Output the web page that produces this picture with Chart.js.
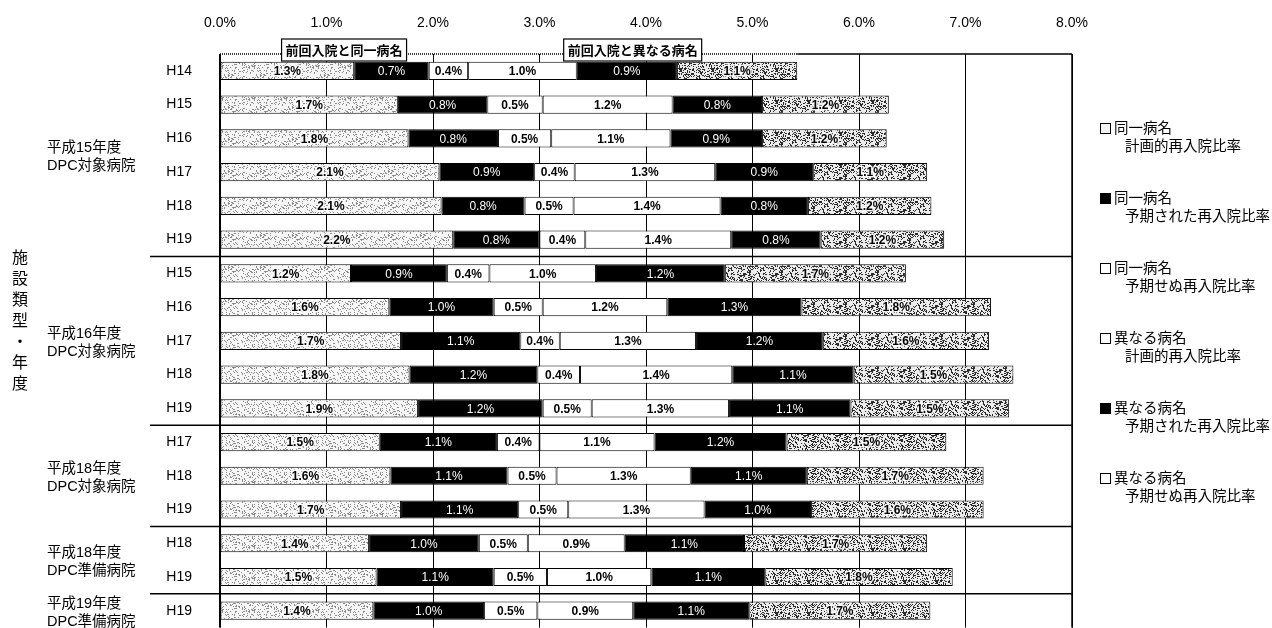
<!DOCTYPE html>
<html>
<head>
<meta charset="utf-8">
<script src="https://cdn.jsdelivr.net/npm/chart.js@4/dist/chart.umd.min.js"></script>
<style>
  html, body { margin: 0; padding: 0; background: #fff; overflow: hidden; width: 1272px; height: 628px; }
  #wrap { position: relative; width: 1272px; height: 664px; }
  #legend { position: absolute; left: 1100px; top: 118px; font-family: 'Noto Sans CJK JP', sans-serif; font-size: 14.5px; color: #000; }
  .item { height: 70px; }
  .item div { line-height: 18px; white-space: nowrap; }
  .item .l2 { padding-left: 25px; }
  .box { display: inline-block; width: 9px; height: 9px; border: 1px solid #000; margin-right: 3px; vertical-align: -1px; }
</style>
</head>
<body>
<div id="wrap">
  <canvas id="chart" width="1272" height="664"></canvas>
  <div id="legend"></div>
</div>
<script>
// rows (top to bottom) and their groups
const years = ['H14', 'H15', 'H16', 'H17', 'H18', 'H19',
               'H15', 'H16', 'H17', 'H18', 'H19',
               'H17', 'H18', 'H19',
               'H18', 'H19',
               'H19'];
const groupNames = ['平成15年度', '平成16年度', '平成18年度', '平成18年度', '平成19年度'];
const groupTypes = ['DPC対象病院', 'DPC対象病院', 'DPC対象病院', 'DPC準備病院', 'DPC準備病院'];
const groupSizes = [6, 5, 3, 2, 1];

// % values
const samePlanned    = [1.26, 1.67, 1.77, 2.06, 2.08, 2.19, 1.23, 1.59, 1.70, 1.78, 1.86, 1.50, 1.60, 1.70, 1.40, 1.47, 1.44];
const sameExpected   = [0.70, 0.84, 0.84, 0.89, 0.78, 0.81, 0.90, 0.98, 1.12, 1.20, 1.17, 1.10, 1.10, 1.10, 1.03, 1.10, 1.04];
const sameUnexpected = [0.37, 0.52, 0.50, 0.38, 0.46, 0.43, 0.40, 0.46, 0.37, 0.40, 0.46, 0.40, 0.46, 0.47, 0.46, 0.50, 0.50];
const diffPlanned    = [1.02, 1.22, 1.12, 1.32, 1.38, 1.37, 1.00, 1.17, 1.28, 1.43, 1.29, 1.08, 1.26, 1.28, 0.91, 0.98, 0.90];
const diffExpected   = [0.94, 0.84, 0.86, 0.92, 0.82, 0.84, 1.21, 1.26, 1.19, 1.14, 1.14, 1.24, 1.09, 1.00, 1.12, 1.07, 1.09];
const diffUnexpected = [1.13, 1.19, 1.17, 1.07, 1.16, 1.16, 1.70, 1.78, 1.56, 1.50, 1.49, 1.50, 1.66, 1.62, 1.72, 1.76, 1.70];

const seriesNames = [
  ['同一病名', '計画的再入院比率'],
  ['同一病名', '予期された再入院比率'],
  ['同一病名', '予期せぬ再入院比率'],
  ['異なる病名', '計画的再入院比率'],
  ['異なる病名', '予期された再入院比率'],
  ['異なる病名', '予期せぬ再入院比率']
];
const spanLabels = ['前回入院と同一病名', '前回入院と異なる病名'];

const xMin = 0, xMax = 8, xStep = 1;
const title = '施設類型・年度';

const latin = "'Liberation Sans', 'Noto Sans CJK JP', Arial, sans-serif";

// stipple texture for the patterned segments
function makePattern(base, dot, density, seed) {
  const c = document.createElement('canvas');
  c.width = c.height = 32;
  const g = c.getContext('2d');
  g.fillStyle = base;
  g.fillRect(0, 0, 32, 32);
  g.fillStyle = dot;
  for (let y = 0; y < 32; y++) {
    for (let x = 0; x < 32; x++) {
      let h = Math.imul(x + 1, 374761393) ^ Math.imul(y + 7, 668265263) ^ Math.imul(seed, 1442695041);
      h = Math.imul(h ^ (h >>> 13), 1274126177);
      if (((h >>> 0) % 1000) < density) g.fillRect(x, y, 1, 1);
    }
  }
  return g.createPattern(c, 'repeat');
}

const ctx = document.getElementById('chart').getContext('2d');
const lightPat = makePattern('#f6f6f6', '#8a8a8a', 170, 3);
const darkPat = makePattern('#ececec', '#2a2a2a', 330, 11);

const fills = [lightPat, '#000', '#fff', '#fff', '#000', darkPat];
const legendFills = ['#f2f2f2', '#000', '#fff', '#fff', '#000', '#fff'];
const textColors = ['#000', '#fff', '#000', '#000', '#fff', '#000'];
const halo = [true, false, false, false, false, true];
const seriesData = [samePlanned, sameExpected, sameUnexpected, diffPlanned, diffExpected, diffUnexpected];

const datasets = seriesData.map((d, i) => ({
  label: seriesNames[i].join(' '),
  data: d,
  backgroundColor: fills[i],
  borderColor: '#000',
  borderWidth: 1,
  borderSkipped: false,
  textColor: textColors[i],
  halo: halo[i],
  barPercentage: 0.54,
  categoryPercentage: 1
}));

// values printed in each segment
const barLabels = {
  id: 'barLabels',
  afterDatasetsDraw(chart) {
    const c = chart.ctx;
    c.save();
    c.textAlign = 'center';
    c.textBaseline = 'middle';
    chart.data.datasets.forEach((ds, i) => {
      c.font = (ds.textColor === '#fff' ? '' : 'bold ') + '12px ' + latin;
      chart.getDatasetMeta(i).data.forEach((bar, j) => {
        const v = Math.round(ds.data[j] * 10) / 10;
        const txt = v.toFixed(1) + '%';
        const cx = (bar.x + bar.base) / 2;
        if (ds.halo) {
          c.strokeStyle = 'rgba(255,255,255,0.85)';
          c.lineWidth = 3;
          c.lineJoin = 'round';
          c.strokeText(txt, cx, bar.y + 1);
        }
        c.fillStyle = ds.textColor;
        c.fillText(txt, cx, bar.y + 1);
      });
    });
    c.restore();
  }
};

// frame, group separators, group labels, span boxes, axis title
const decorations = {
  id: 'decorations',
  afterDraw(chart) {
    const c = chart.ctx;
    const area = chart.chartArea;
    const ys = chart.scales.y;
    const xs = chart.scales.x;
    c.save();
    c.strokeStyle = '#000';

    // group separators
    let start = 0;
    groupSizes.forEach((n, gi) => {
      if (gi > 0) {
        const yb = (ys.getPixelForValue(start - 1) + ys.getPixelForValue(start)) / 2;
        c.lineWidth = 1.5;
        c.beginPath();
        c.moveTo(150, yb);
        c.lineTo(area.right, yb);
        c.stroke();
      }
      const yc = (ys.getPixelForValue(start) + ys.getPixelForValue(start + n - 1)) / 2;
      c.fillStyle = '#000';
      c.font = '14.5px ' + latin;
      c.textAlign = 'left';
      c.textBaseline = 'middle';
      c.fillText(groupNames[gi], 47, yc - 7);
      c.fillText(groupTypes[gi], 47, yc + 11);
      start += n;
    });

    // frame
    const firstTotal = seriesData.reduce((s, d) => s + d[0], 0);
    const xEnd = xs.getPixelForValue(firstTotal);
    c.lineWidth = 2;
    c.beginPath();
    c.moveTo(area.left, area.top);
    c.lineTo(area.left, area.bottom);
    c.stroke();
    c.lineWidth = 1.5;
    c.beginPath();
    c.moveTo(area.right, area.top);
    c.lineTo(area.right, area.bottom);
    c.moveTo(xEnd, area.top);
    c.lineTo(area.right, area.top);
    c.stroke();
    c.setLineDash([1, 1]);
    c.beginPath();
    c.moveTo(area.left, area.top);
    c.lineTo(xEnd, area.top);
    c.stroke();
    c.setLineDash([]);

    // span boxes over the first row
    const sameEnd = samePlanned[0] + sameExpected[0] + sameUnexpected[0];
    const spans = [[0, sameEnd], [sameEnd, firstTotal]];
    c.font = 'bold 13px ' + latin;
    c.textAlign = 'center';
    c.textBaseline = 'middle';
    spans.forEach((s, i) => {
      const cx = (xs.getPixelForValue(s[0]) + xs.getPixelForValue(s[1])) / 2;
      const w = c.measureText(spanLabels[i]).width + 8;
      const cy = area.top - 4;
      c.fillStyle = '#fff';
      c.fillRect(cx - w / 2, cy - 11, w, 22);
      c.lineWidth = 1.2;
      c.strokeRect(cx - w / 2, cy - 11, w, 22);
      c.fillStyle = '#000';
      c.fillText(spanLabels[i], cx, cy + 1);
    });

    // vertical axis title
    c.font = '16px ' + latin;
    c.textAlign = 'center';
    const chars = Array.from(title);
    const midY = 322;
    chars.forEach((ch, k) => {
      c.fillText(ch, 20, midY + (k - (chars.length - 1) / 2) * 21);
    });
    c.restore();
  }
};

new Chart(ctx, {
  type: 'bar',
  data: { labels: years, datasets: datasets },
  options: {
    indexAxis: 'y',
    responsive: false,
    animation: false,
    layout: { padding: { top: 0, right: 200, bottom: 10, left: 0 } },
    plugins: {
      legend: { display: false },
      tooltip: { enabled: false }
    },
    scales: {
      x: {
        position: 'top',
        stacked: true,
        min: xMin,
        max: xMax,
        afterFit(scale) { scale.height = 54; },
        ticks: {
          stepSize: xStep,
          padding: 22,
          color: '#000',
          font: { family: latin, size: 14 },
          callback: v => v.toFixed(1) + '%'
        },
        grid: { color: '#000', lineWidth: 1, drawTicks: false },
        border: { display: false }
      },
      y: {
        stacked: true,
        afterFit(scale) { scale.width = 220; },
        ticks: {
          padding: 28,
          color: '#000',
          font: { family: latin, size: 14 }
        },
        grid: { display: false, drawTicks: false },
        border: { display: false }
      }
    }
  },
  plugins: [barLabels, decorations]
});

// legend on the right
const legend = document.getElementById('legend');
seriesNames.forEach((n, i) => {
  const item = document.createElement('div');
  item.className = 'item';
  item.innerHTML = '<div><span class="box" style="background:' + legendFills[i] + '"></span>' + n[0] + '</div>' +
                   '<div class="l2">' + n[1] + '</div>';
  legend.appendChild(item);
});
</script>
</body>
</html>
